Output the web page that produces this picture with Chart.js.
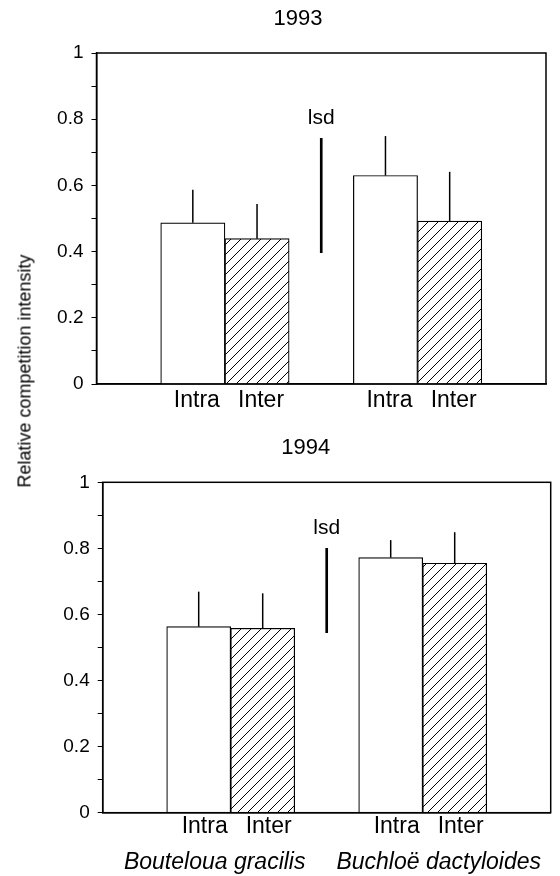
<!DOCTYPE html>
<html>
<head>
<meta charset="utf-8">
<script src="https://cdn.jsdelivr.net/npm/chart.js@4.4.0/dist/chart.umd.min.js"></script>
<style>
  body { margin: 0; background: #fff; }
  #wrap { position: relative; width: 560px; height: 876px; }
  #wrap canvas { position: absolute; left: 0; }
  #c1993 { top: 0; }
  #c1994 { top: 420px; }
  #ytitle {
    position: absolute; left: 25px; top: 371px;
    transform: translate(-50%, -50%) rotate(-90deg);
    font: 18px "Liberation Sans", Arial, sans-serif;
    white-space: nowrap; color: #000;
  }
</style>
</head>
<body>
<div id="wrap">
  <canvas id="c1993" width="560" height="420"></canvas>
  <canvas id="c1994" width="560" height="456"></canvas>
  <div id="ytitle">Relative competition intensity</div>
</div>
<script>
// slots along the x axis: gap, Intra, Inter, lsd gap, Intra, Inter, gap
const slotLabels = ['', 'Intra', 'Inter', '', 'Intra', 'Inter', ''];
const species = ['Bouteloua gracilis', 'Buchloë dactyloides'];
const intraSlots = [1, 4];
const interSlots = [2, 5];
const lsdSlot = 3;

const intra1993 = [0.487, 0.630];
const intraErr1993 = [0.100, 0.119];
const inter1993 = [0.439, 0.492];
const interErr1993 = [0.105, 0.149];
const lsd1993 = [0.397, 0.742];

const intra1994 = [0.563, 0.772];
const intraErr1994 = [0.106, 0.053];
const inter1994 = [0.558, 0.755];
const interErr1994 = [0.106, 0.094];
const lsd1994 = [0.545, 0.800];

const FONT = '"Liberation Sans", Arial, sans-serif';

function toSlots(values, slots) {
  const out = slotLabels.map(() => null);
  slots.forEach((s, i) => { out[s] = values[i]; });
  return out;
}

function hatch() {
  const c = document.createElement('canvas');
  c.width = 10; c.height = 10;
  const g = c.getContext('2d');
  g.fillStyle = '#fff';
  g.fillRect(0, 0, 10, 10);
  g.strokeStyle = '#000';
  g.lineWidth = 1;
  g.beginPath();
  g.moveTo(0, 10); g.lineTo(10, 0);
  g.moveTo(-2, 2); g.lineTo(2, -2);
  g.moveTo(8, 12); g.lineTo(12, 8);
  g.stroke();
  return g.createPattern(c, 'repeat');
}

const errorBars = {
  id: 'errorBars',
  afterDatasetsDraw(chart) {
    const ctx = chart.ctx;
    const y = chart.scales.y;
    ctx.save();
    ctx.strokeStyle = '#000';
    chart.data.datasets.forEach((ds, i) => {
      const meta = chart.getDatasetMeta(i);
      if (ds.errors) {
        ctx.lineWidth = 1.5;
        meta.data.forEach((bar, j) => {
          const e = ds.errors[j];
          if (e == null || ds.data[j] == null) return;
          ctx.beginPath();
          ctx.moveTo(bar.x, bar.y);
          ctx.lineTo(bar.x, y.getPixelForValue(ds.data[j] + e));
          ctx.stroke();
        });
      }
      if (ds.tag) {
        meta.data.forEach((bar, j) => {
          if (ds.data[j] == null) return;
          ctx.fillStyle = '#000';
          ctx.font = '21px ' + FONT;
          ctx.textAlign = 'center';
          ctx.textBaseline = 'alphabetic';
          ctx.fillText(ds.tag, bar.x, bar.y - 14);
        });
      }
    });
    // frame round the plot
    const a = chart.chartArea;
    ctx.lineWidth = 1.5;
    ctx.strokeRect(a.left, a.top, a.right - a.left, a.bottom - a.top);
    ctx.restore();
  }
};

function makeChart(id, year, intra, intraErr, inter, interErr, lsd, opts) {
  const ctx = document.getElementById(id).getContext('2d');
  const scales = {
    x: {
      type: 'category',
      offset: true,
      grid: { display: false, drawTicks: false },
      border: { display: true, color: '#000', width: 1.5 },
      ticks: {
        color: '#000', font: { family: FONT, size: 23 },
        padding: opts.labelPad, labelOffset: opts.labelOffset,
        autoSkip: false, maxRotation: 0
      },
      afterFit: (s) => { s.height = opts.xHeight; }
    },
    y: {
      min: 0, max: 1,
      grid: { display: true, drawOnChartArea: false, drawTicks: true, tickLength: 5, color: '#000', lineWidth: 1 },
      border: { display: true, color: '#000', width: 1.5 },
      ticks: {
        stepSize: 0.1, color: '#000', padding: 8,
        font: { family: FONT, size: 19 },
        callback: (v) => (Math.round(v * 10) % 2 === 0 ? String(Math.round(v * 10) / 10) : '')
      },
      afterFit: (s) => { s.width = opts.yWidth; }
    }
  };
  if (opts.species) {
    scales.x2 = {
      type: 'category',
      position: 'bottom',
      labels: species,
      offset: true,
      grid: { display: false, drawTicks: false },
      border: { display: false },
      ticks: {
        color: '#000', font: { family: FONT, size: 23, style: 'italic' },
        padding: opts.speciesPad, autoSkip: false, maxRotation: 0
      },
      afterFit: (s) => { s.height = opts.speciesHeight; }
    };
  }
  return new Chart(ctx, {
    type: 'bar',
    data: {
      labels: slotLabels,
      datasets: [
        {
          label: 'Intra',
          data: toSlots(intra, intraSlots),
          errors: toSlots(intraErr, intraSlots),
          backgroundColor: '#fff',
          borderColor: '#000',
          borderWidth: 1.2
        },
        {
          label: 'Inter',
          data: toSlots(inter, interSlots),
          errors: toSlots(interErr, interSlots),
          backgroundColor: hatch(),
          borderColor: '#000',
          borderWidth: 1.2
        },
        {
          label: 'lsd',
          tag: 'lsd',
          data: toSlots([lsd], [lsdSlot]),
          backgroundColor: '#000',
          borderWidth: 0,
          barThickness: 2
        }
      ]
    },
    options: {
      responsive: false,
      animation: false,
      datasets: { bar: { grouped: false, categoryPercentage: 1, barPercentage: 1 } },
      layout: { padding: { left: opts.padLeft, right: opts.padRight, top: 0, bottom: 0 } },
      plugins: {
        legend: { display: false },
        tooltip: { enabled: false },
        title: {
          display: true, text: year, color: '#000',
          font: { family: FONT, size: 22, weight: 'normal' },
          padding: opts.titlePad
        }
      },
      scales: scales
    },
    plugins: [errorBars]
  });
}

makeChart('c1993', '1993', intra1993, intraErr1993, inter1993, interErr1993, lsd1993, {
  titlePad: { top: 5.3, bottom: 21.3 },
  padLeft: 50, yWidth: 46.5, padRight: 14,
  xHeight: 36, labelPad: 3, labelOffset: 4
});

makeChart('c1994', '1994', intra1994, intraErr1994, inter1994, interErr1994, lsd1994, {
  titlePad: { top: 15.1, bottom: 20.8 },
  padLeft: 60.7, yWidth: 42, padRight: 9.3,
  xHeight: 30, labelPad: 0, labelOffset: 6,
  species: true, speciesHeight: 33.3, speciesPad: 6
});
</script>
</body>
</html>
